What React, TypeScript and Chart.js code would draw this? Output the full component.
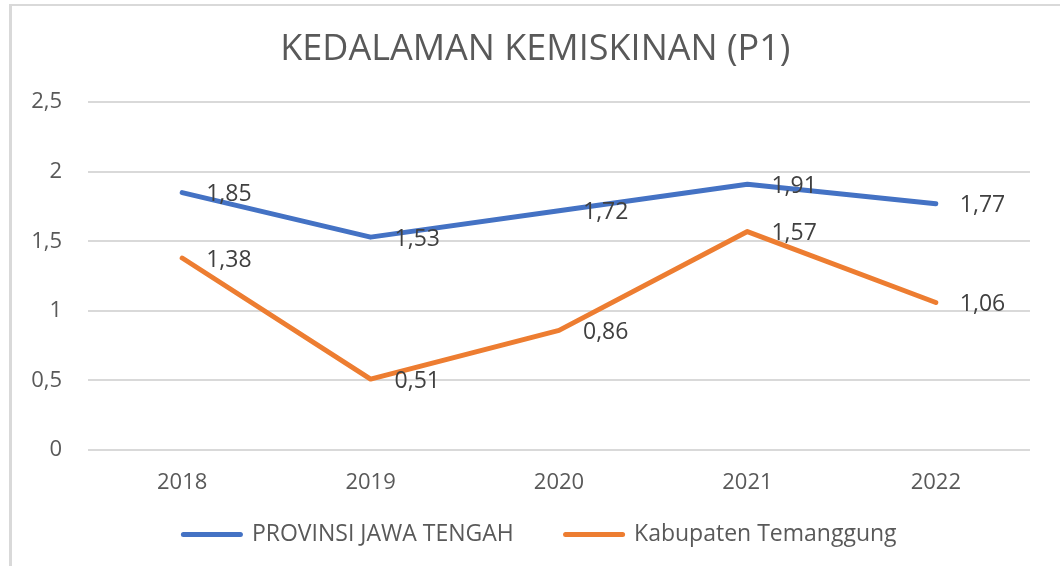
import React, { useEffect, useRef } from "react";
import { Chart, registerables } from "chart.js";

Chart.register(...registerables);

const TITLE = "KEDALAMAN KEMISKINAN (P1)";
const YEARS = ["2018", "2019", "2020", "2021", "2022"];
const PROVINSI = [1.85, 1.53, 1.72, 1.91, 1.77];
const TEMANGGUNG = [1.38, 0.51, 0.86, 1.57, 1.06];
const SERIES_NAMES = ["PROVINSI JAWA TENGAH", "Kabupaten Temanggung"];
const COLORS = ["#4472C4", "#ED7D31"];
const Y_MIN = 0;
const Y_MAX = 2.5;
const Y_STEP = 0.5;

const FONT = "'Open Sans', 'Noto Sans', sans-serif";

const fmt = (v: number, digits?: number) =>
  (digits === undefined ? String(v) : v.toFixed(digits)).replace(".", ",");

const framePlugin = {
  id: "frame",
  beforeDraw(chart: any) {
    const ctx = chart.ctx;
    ctx.save();
    ctx.fillStyle = "#ffffff";
    ctx.fillRect(0, 0, chart.width, chart.height);
    ctx.fillStyle = "#d9d9d9";
    ctx.fillRect(9, 4, chart.width - 9, 2);
    ctx.fillRect(9, 4, 3, chart.height - 4);
    ctx.restore();
  },
};

const dataLabelPlugin = {
  id: "dataLabels",
  afterDatasetsDraw(chart: any) {
    const ctx = chart.ctx;
    ctx.save();
    ctx.font = `23px ${FONT}`;
    ctx.fillStyle = "#404040";
    ctx.textAlign = "left";
    ctx.textBaseline = "middle";
    chart.data.datasets.forEach((ds: any, i: number) => {
      const meta = chart.getDatasetMeta(i);
      meta.data.forEach((pt: any, j: number) => {
        ctx.fillText(fmt(ds.data[j], 2), pt.x + 24, pt.y + 2);
      });
    });
    ctx.restore();
  },
};

export default function App() {
  const ref = useRef<HTMLCanvasElement | null>(null);

  useEffect(() => {
    if (!ref.current) return;
    const chart = new Chart(ref.current, {
      type: "line",
      data: {
        labels: YEARS,
        datasets: [
          {
            label: SERIES_NAMES[0],
            data: PROVINSI,
            borderColor: COLORS[0],
            backgroundColor: COLORS[0],
            borderWidth: 5,
            borderCapStyle: "round",
            borderJoinStyle: "round",
            pointRadius: 0,
            tension: 0,
          },
          {
            label: SERIES_NAMES[1],
            data: TEMANGGUNG,
            borderColor: COLORS[1],
            backgroundColor: COLORS[1],
            borderWidth: 5,
            borderCapStyle: "round",
            borderJoinStyle: "round",
            pointRadius: 0,
            tension: 0,
          },
        ],
      },
      options: {
        responsive: false,
        animation: false,
        devicePixelRatio: 1,
        layout: { padding: { top: 8, left: 20, right: 0, bottom: 10 } },
        plugins: {
          title: {
            display: true,
            text: TITLE + " ",
            color: "#595959",
            font: { family: FONT, size: 36, weight: "normal" },
            padding: { top: 20, bottom: 31 },
          },
          legend: {
            display: true,
            position: "bottom",
            labels: {
              usePointStyle: true,
              pointStyle: "line",
              pointStyleWidth: 57,
              padding: 10,
              color: "#595959",
              font: { family: FONT, size: 23 },
              generateLabels(chart: any) {
                const items = Chart.defaults.plugins.legend.labels.generateLabels(chart);
                items.forEach((it: any, i: number) => {
                  it.pointStyle = "line";
                  it.lineWidth = 5;
                  it.lineCap = "round";
                  it.strokeStyle = COLORS[i];
                  if (i === 0) it.text = it.text + "       ";
                });
                return items;
              },
            },
          },
          tooltip: { enabled: false },
        },
        scales: {
          x: {
            offset: true,
            grid: { display: false, drawTicks: false },
            border: { display: false },
            ticks: {
              color: "#595959",
              font: { family: FONT, size: 22 },
              padding: 20,
            },
            afterFit(scale: any) {
              scale.height = 63;
            },
          },
          y: {
            min: Y_MIN,
            max: Y_MAX,
            grid: { color: "#d9d9d9", lineWidth: 2, drawTicks: false },
            border: { display: false },
            ticks: {
              stepSize: Y_STEP,
              color: "#595959",
              font: { family: FONT, size: 22 },
              padding: 26,
              callback: (v: any) => fmt(Number(v)),
            },
            afterFit(scale: any) {
              scale.width = 68;
            },
          },
          yRight: {
            position: "right",
            display: true,
            grid: { display: false, drawTicks: false },
            border: { display: false },
            ticks: { display: false },
            afterFit(scale: any) {
              scale.width = 30;
            },
          },
        },
      },
      plugins: [framePlugin, dataLabelPlugin],
    });
    return () => chart.destroy();
  }, []);

  return (
    <div style={{ position: "fixed", left: 0, top: 0, width: 1060, height: 566, background: "#fff" }}>
      <canvas ref={ref} width={1060} height={566} style={{ display: "block", width: 1060, height: 566 }} />
    </div>
  );
}
